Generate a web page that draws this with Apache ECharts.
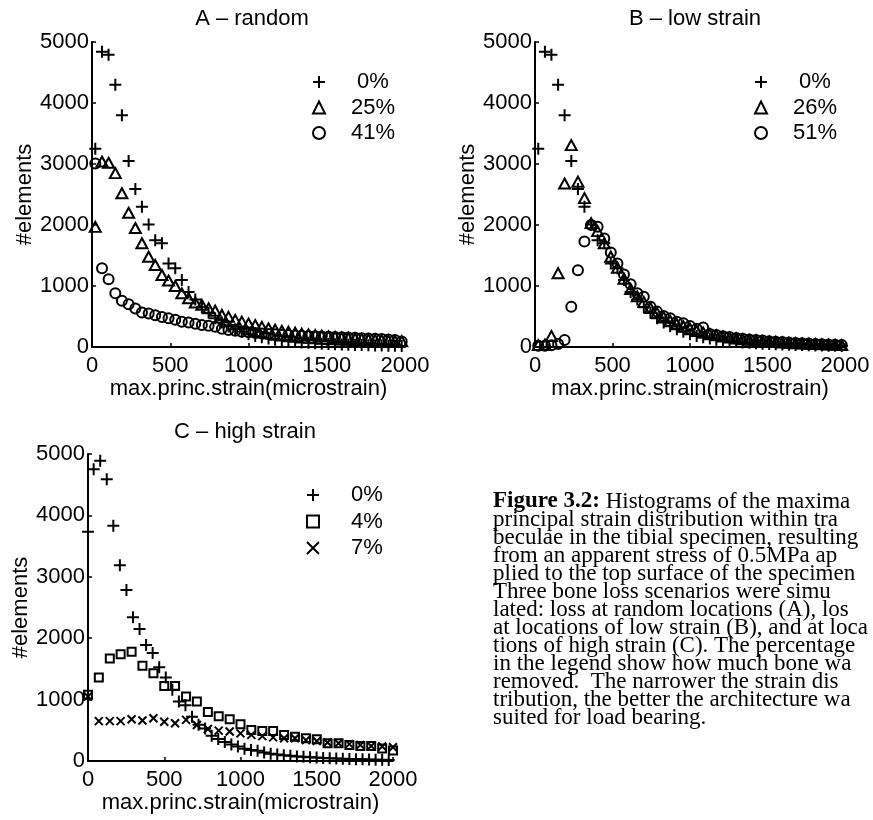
<!DOCTYPE html>
<html>
<head>
<meta charset="utf-8">
<script src="https://cdn.jsdelivr.net/npm/echarts@6/dist/echarts.min.js"></script>
<style>
html,body{margin:0;padding:0;background:#fff;}
#chart{width:873px;height:820px;}
</style>
</head>
<body>
<div id="chart"></div>
<script>
// ---- data ----
const panelTitles = ['A \u2013 random', 'B \u2013 low strain', 'C \u2013 high strain'];
const xTicks = [0, 500, 1000, 1500, 2000];
const yTicks = [0, 1000, 2000, 3000, 4000, 5000];
const xName = 'max.princ.strain(microstrain)';
const yName = '#elements';

// bin centres (microstrain) for panels A and B
const binsAB = [21,64,106,149,191,234,277,319,362,404,447,489,532,574,617,660,702,745,787,830,872,915,957,1000,1043,1085,1128,1170,1213,1255,1298,1340,1383,1426,1468,1511,1553,1596,1638,1681,1723,1766,1809,1851,1894,1936,1979];
// panel A
const a0  = [3250,4840,4790,4300,3800,3050,2590,2300,2010,1750,1700,1370,1290,1100,900,780,650,560,470,400,340,290,250,210,180,160,140,120,105,95,85,75,68,60,55,50,45,40,37,34,31,28,26,24,22,20,18];
const a25 = [1970,3040,3020,2850,2520,2200,1950,1700,1480,1345,1180,1090,1000,880,800,730,690,635,595,525,495,445,415,385,360,330,305,285,265,250,235,220,205,195,185,175,165,155,148,140,132,125,118,112,105,100,95];
const a41 = [3010,1290,1110,880,760,700,630,565,550,520,490,470,445,415,400,380,360,350,330,300,280,265,250,240,230,222,215,208,200,195,190,185,180,175,172,168,165,160,155,150,145,140,135,130,125,115,90];
// panel B
const b0  = [3250,4840,4790,4300,3800,3050,2590,2300,2010,1750,1700,1370,1290,1100,900,780,650,560,470,400,340,290,250,210,180,160,140,120,105,95,85,75,68,60,55,50,45,40,37,34,31,28,26,24,22,20,18];
const b26 = [30,40,180,1210,2680,3310,2710,2440,2030,1900,1700,1480,1300,1120,950,830,740,640,560,490,430,380,340,300,265,235,210,190,170,155,140,128,117,107,98,90,82,75,68,62,57,52,47,43,39,35,32];
const b51 = [20,20,30,50,115,660,1260,1730,2000,1970,1780,1550,1370,1190,1030,880,825,660,580,510,470,415,390,345,300,320,215,195,178,162,148,135,124,114,105,96,88,80,73,67,61,56,51,46,42,38,34];
// panel C
const binsC0 = [0,37,80,123,166,209,252,295,338,381,424,467,510,553,596,639,682,725,768,811,854,897,940,983,1026,1069,1112,1155,1198,1241,1284,1327,1370,1413,1456,1499,1542,1585,1628,1671,1714,1757,1800,1843,1886,1929,1972];
const c0  = [3735,4750,4890,4590,3830,3190,2785,2340,2150,1890,1760,1525,1360,1160,970,910,720,590,530,410,360,310,270,235,200,180,165,140,120,105,95,85,75,68,60,55,50,45,40,36,33,30,27,25,22,20,18];
const binsC47 = [0,71,143,214,286,357,429,500,571,643,714,786,857,929,1000,1071,1143,1214,1286,1357,1429,1500,1571,1643,1714,1786,1857,1929,2000];
const c4  = [1080,1360,1670,1740,1780,1550,1430,1220,1220,1050,970,800,730,680,600,505,490,490,425,395,370,355,290,290,260,245,245,205,170];
const c7  = [1050,650,650,650,680,660,695,640,615,670,585,520,495,480,450,425,405,385,370,370,340,325,300,290,275,260,245,235,225];

const legendA = ['0%', '25%', '41%'];
const legendB = ['0%', '26%', '51%'];
const legendC = ['0%', '4%', '7%'];

const captionLines = [
  '{b|Figure 3.2:} Histograms of the maxima',
  'principal strain distribution within tra',
  'beculae in the tibial specimen, resulting',
  'from an apparent stress of 0.5MPa ap',
  'plied to the top surface of the specimen',
  'Three bone loss scenarios were simu',
  'lated: loss at random locations (A), los',
  'at locations of low strain (B), and at loca',
  'tions of high strain (C). The percentage',
  'in the legend show how much bone wa',
  'removed.  The narrower the strain dis',
  'tribution, the better the architecture wa',
  'suited for load bearing.'
];

// ---- chart ----
const FONT = 'Liberation Sans, Arial, Helvetica, sans-serif';
const SERIF = 'Liberation Serif, Times New Roman, serif';
const FS = 22;
const PLUS = 'path://M6,0L6,12M0,6L12,6';
const CROSS = 'path://M0,0L10,10M10,0L0,10';
const hollow = {color: 'transparent', borderColor: '#000', borderWidth: 2, opacity: 1};

function pairs(xs, ys) { return xs.map(function (x, i) { return [x, ys[i]]; }); }
function plain(v) { return String(v); }

const grids = [
  {left: 92, top: 42, width: 313, height: 305},
  {left: 535, top: 42, width: 310, height: 305},
  {left: 88, top: 454, width: 305, height: 307}
];

function xAxis(i) {
  return {
    gridIndex: i, type: 'value',
    min: xTicks[0], max: xTicks[xTicks.length - 1], interval: xTicks[1] - xTicks[0],
    axisLine: {show: true, onZero: false, lineStyle: {color: '#000', width: 2}},
    axisTick: {show: true, inside: true, length: 4, lineStyle: {color: '#000', width: 1.5}},
    axisLabel: {color: '#000', fontSize: FS, fontFamily: FONT, margin: 8, formatter: plain},
    splitLine: {show: false},
    name: xName, nameLocation: 'middle', nameGap: 31,
    nameTextStyle: {color: '#000', fontSize: FS, fontFamily: FONT}
  };
}
function yAxis(i) {
  return {
    gridIndex: i, type: 'value',
    min: yTicks[0], max: yTicks[yTicks.length - 1], interval: yTicks[1] - yTicks[0],
    axisLine: {show: true, onZero: false, lineStyle: {color: '#000', width: 2}},
    axisTick: {show: true, inside: true, length: 4, lineStyle: {color: '#000', width: 1.5}},
    axisLabel: {color: '#000', fontSize: FS, fontFamily: FONT, margin: 3, formatter: plain},
    splitLine: {show: false},
    name: yName, nameLocation: 'middle', nameGap: 52,
    nameTextStyle: {color: '#000', fontSize: FS, fontFamily: FONT}
  };
}

function sc(name, gi, xs, ys, symbol, size) {
  return {
    type: 'scatter', name: name, xAxisIndex: gi, yAxisIndex: gi,
    data: pairs(xs, ys), symbol: symbol, symbolSize: size,
    itemStyle: hollow, emphasis: {disabled: true}, silent: true
  };
}

function legend(names, iconX, firstRowY, gap) {
  return {
    data: names, orient: 'vertical', left: iconX - 6, top: firstRowY - 11,
    itemWidth: 12, itemHeight: 12, itemGap: gap, selectedMode: false,
    itemStyle: {opacity: 1},
    formatter: '{a|{name}}',
    textStyle: {
      color: '#000', fontSize: FS, fontFamily: FONT,
      rich: {a: {width: 86, align: 'center', fontSize: FS, fontFamily: FONT, color: '#000', lineHeight: 22, height: 22}}
    }
  };
}

const titleStyle = {fontSize: FS, fontWeight: 'normal', fontFamily: FONT, color: '#000'};

const option = {
  backgroundColor: '#fff',
  animation: false,
  title: [
    {text: panelTitles[0], left: 247, top: 3, textAlign: 'center', textStyle: titleStyle},
    {text: panelTitles[1], left: 690, top: 3, textAlign: 'center', textStyle: titleStyle},
    {text: panelTitles[2], left: 240, top: 416, textAlign: 'center', textStyle: titleStyle}
  ],
  grid: grids,
  xAxis: [xAxis(0), xAxis(1), xAxis(2)],
  yAxis: [yAxis(0), yAxis(1), yAxis(2)],
  legend: [
    legend(legendA, 313, 77, 3.5),
    legend(legendB, 755, 77, 3.5),
    legend(legendC, 307, 490, 4.5)
  ],
  series: [
    sc('0%', 0, binsAB, a0, PLUS, 12),
    sc('25%', 0, binsAB, a25, 'triangle', [11, 10]),
    sc('41%', 0, binsAB, a41, 'circle', 10),
    sc('0%', 1, binsAB, b0, PLUS, 12),
    sc('26%', 1, binsAB, b26, 'triangle', [11, 10]),
    sc('51%', 1, binsAB, b51, 'circle', 10),
    sc('0%', 2, binsC0, c0, PLUS, 12),
    sc('4%', 2, binsC47, c4, 'rect', 8),
    sc('7%', 2, binsC47, c7, CROSS, 8)
  ],
  graphic: [{
    type: 'text', left: 493, top: 490, silent: true,
    style: {
      text: captionLines.join('\n'),
      fontFamily: SERIF, fontSize: 23, lineHeight: 18, fill: '#000',
      rich: {b: {fontWeight: 'bold', fontFamily: SERIF, fontSize: 23, lineHeight: 18}}
    }
  }]
};

const chart = echarts.init(document.getElementById('chart'), null, {renderer: 'canvas'});
chart.setOption(option);
</script>
</body>
</html>
